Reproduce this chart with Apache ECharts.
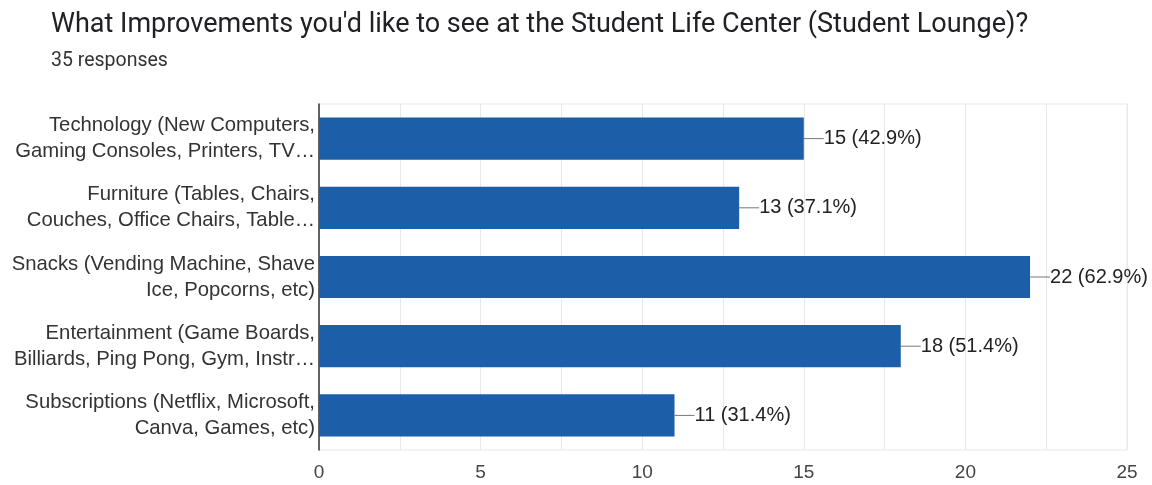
<!DOCTYPE html>
<html><head><meta charset="utf-8">
<script src="https://cdn.jsdelivr.net/npm/echarts@6/dist/echarts.min.js"></script>
<style>html,body{margin:0;padding:0;background:#fff}#c{width:1152px;height:485px}</style>
</head><body><div id="c"></div>
<script>
const titleText = "What Improvements you'd like to see at the Student Life Center (Student Lounge)?";
const subtitleText = "35 responses";
const categories = [
  "Technology (New Computers,\nGaming Consoles, Printers, TV…",
  "Furniture (Tables, Chairs,\nCouches, Office Chairs, Table…",
  "Snacks (Vending Machine, Shave\nIce, Popcorns, etc)",
  "Entertainment (Game Boards,\nBilliards, Ping Pong, Gym, Instr…",
  "Subscriptions (Netflix, Microsoft,\nCanva, Games, etc)"
];
const counts = [15, 13, 22, 18, 11];
const percents = ["42.9%", "37.1%", "62.9%", "51.4%", "31.4%"];
const xTicks = [0, 5, 10, 15, 20, 25];

const font = "'Liberation Sans', Arial, sans-serif";
const tfont = "Roboto, 'Liberation Sans', sans-serif";
const chart = echarts.init(document.getElementById('c'));
chart.setOption({
  animation: false,
  backgroundColor: '#fff',
  title: {
    text: titleText, subtext: subtitleText, left: 46, top: 7, itemGap: 12,
    textStyle: {fontFamily: tfont, fontSize: 27, fontWeight: 'normal', color: '#202124'},
    subtextStyle: {fontFamily: tfont, fontSize: 19.5, color: '#333'}
  },
  grid: {left: 319, right: 25, top: 104, bottom: 35, show: true, borderColor: '#e8e8e8', borderWidth: 1},
  xAxis: {
    type: 'value', min: 0, max: 25, interval: 2.5,
    axisLine: {show: false}, axisTick: {show: false},
    splitLine: {lineStyle: {color: '#e8e8e8'}},
    axisLabel: {
      fontFamily: font, fontSize: 19, color: '#444', margin: 13,
      formatter: v => xTicks.indexOf(v) >= 0 ? String(v) : ''
    }
  },
  yAxis: {
    type: 'category', data: categories, inverse: true,
    axisLine: {lineStyle: {color: '#333', width: 1.5}}, axisTick: {show: false},
    axisLabel: {fontFamily: font, fontSize: 20.3, color: '#333', lineHeight: 26, margin: 4, align: 'right'}
  },
  series: [{
    type: 'bar', data: counts, barCategoryGap: '39%',
    itemStyle: {color: '#1c5ea8'},
    label: {
      show: true, position: 'right', distance: 0,
      formatter: p => '{l|}' + p.value + ' (' + percents[p.dataIndex] + ')',
      fontFamily: font, fontSize: 20, color: '#222',
      rich: {l: {width: 20, height: 1, backgroundColor: '#777', verticalAlign: 'middle'}}
    }
  }]
});
</script></body></html>
